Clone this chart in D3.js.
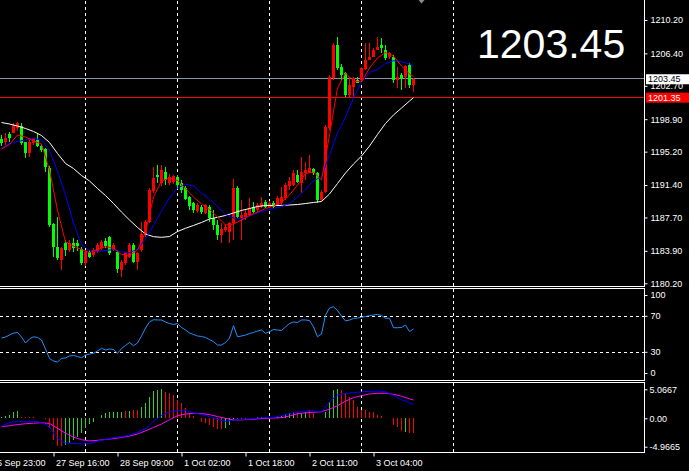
<!DOCTYPE html>
<html><head><meta charset="utf-8">
<script src="https://cdn.jsdelivr.net/npm/d3@7"></script>
<style>html,body{margin:0;padding:0;background:#000;overflow:hidden}</style>
</head><body><svg id="c" width="689" height="471"></svg>
<script>
// ---- data ----
const opens = [1196.61,1196.34,1197.18,1197.36,1197.86,1198.12,1196.27,1195.08,1196.15,1196.53,1195.85,1195.47,1193.34,1186.96,1184.37,1182.85,1184.79,1183.99,1184.76,1184.79,1184.07,1182.48,1183.80,1183.42,1183.80,1184.22,1185.02,1185.48,1183.99,1183.80,1181.72,1182.48,1183.23,1184.56,1182.66,1183.99,1185.70,1187.18,1190.72,1192.54,1191.63,1192.88,1191.63,1191.74,1192.31,1191.63,1191.06,1190.03,1189.35,1188.44,1188.89,1188.21,1188.89,1187.64,1186.84,1185.70,1186.27,1186.08,1187.04,1191.02,1187.49,1187.60,1187.98,1188.93,1188.55,1188.93,1189.50,1188.93,1189.32,1189.12,1189.32,1189.89,1191.29,1191.40,1192.54,1191.59,1192.73,1192.73,1193.19,1192.73,1189.69,1190.64,1197.86,1203.56,1207.35,1204.88,1204.13,1201.66,1202.60,1203.37,1203.37,1204.58,1205.64,1206.02,1206.78,1207.35,1206.78,1206.02,1206.02,1203.37,1203.93,1203.67,1205.07,1202.80];
const highs = [1197.10,1197.29,1197.47,1198.50,1198.58,1198.43,1196.34,1196.72,1196.76,1197.36,1196.07,1195.62,1193.57,1187.07,1187.79,1184.33,1185.13,1185.13,1185.32,1185.13,1184.33,1183.99,1183.99,1184.22,1184.79,1185.13,1185.36,1185.59,1184.79,1183.99,1182.85,1183.77,1184.76,1184.79,1183.80,1187.18,1187.41,1191.06,1193.45,1193.68,1193.68,1193.45,1192.65,1192.54,1192.54,1191.97,1191.29,1190.15,1189.46,1189.35,1189.12,1189.24,1189.12,1188.55,1187.41,1187.04,1186.96,1187.18,1192.05,1191.29,1189.69,1188.55,1189.89,1189.50,1189.35,1190.07,1189.69,1189.58,1189.58,1190.15,1191.20,1191.63,1192.35,1193.11,1193.11,1194.63,1194.06,1194.82,1193.34,1192.88,1190.83,1198.24,1203.93,1207.58,1208.30,1205.19,1204.28,1203.74,1203.71,1203.74,1204.85,1207.55,1207.55,1207.01,1208.30,1208.12,1207.35,1206.55,1206.21,1204.88,1204.16,1205.07,1205.26,1203.59];
const lows = [1195.85,1195.96,1196.34,1197.29,1197.55,1195.96,1194.44,1194.56,1195.96,1195.77,1195.16,1192.92,1186.61,1183.23,1182.85,1181.72,1183.31,1183.77,1183.80,1183.88,1182.29,1182.17,1183.08,1183.20,1183.65,1183.99,1184.22,1183.42,1183.88,1181.41,1180.95,1182.29,1183.08,1182.51,1181.72,1183.77,1185.48,1187.07,1190.49,1191.63,1191.29,1191.40,1191.40,1191.51,1191.06,1190.49,1189.69,1188.55,1188.21,1188.21,1188.10,1188.10,1187.18,1186.27,1185.13,1184.76,1186.05,1184.76,1185.13,1187.64,1185.13,1187.41,1187.87,1188.21,1188.32,1188.78,1188.78,1188.78,1188.78,1189.01,1189.12,1189.69,1190.83,1191.29,1191.63,1190.45,1191.97,1192.73,1192.54,1189.32,1189.58,1190.49,1197.67,1203.37,1204.50,1203.37,1201.43,1201.46,1201.46,1202.99,1203.25,1204.50,1205.64,1205.99,1206.78,1206.40,1205.64,1205.81,1202.99,1202.42,1202.23,1202.42,1202.42,1201.97];
const closes = [1196.22,1196.72,1196.76,1198.24,1198.43,1196.15,1195.08,1196.34,1196.61,1195.85,1195.39,1193.42,1186.84,1184.30,1183.05,1184.18,1183.99,1184.79,1184.22,1184.45,1182.48,1183.80,1183.23,1183.99,1184.56,1184.94,1184.45,1183.62,1184.56,1181.80,1182.66,1183.62,1184.56,1182.66,1183.62,1185.81,1187.18,1190.83,1192.20,1192.31,1193.11,1191.97,1192.31,1192.43,1191.40,1190.83,1189.81,1189.01,1188.55,1189.12,1188.32,1189.12,1187.64,1186.84,1185.70,1186.35,1186.65,1187.04,1191.02,1187.79,1187.98,1188.24,1188.75,1188.36,1189.12,1189.32,1188.93,1189.32,1188.93,1189.89,1190.07,1191.40,1191.86,1192.73,1191.78,1192.92,1193.11,1193.30,1192.73,1189.69,1190.64,1198.04,1203.74,1207.35,1204.70,1203.93,1201.66,1202.80,1203.56,1203.06,1204.70,1205.64,1206.02,1206.78,1207.16,1206.97,1205.84,1206.40,1203.37,1203.74,1203.44,1204.96,1202.80,1203.45];
// moving averages, read every second bar (bars 0,2,...,102) plus the last bar 103
const maSlow = [1198.52,1198.35,1198.12,1197.84,1197.50,1197.04,1196.24,1194.99,1193.85,1193.28,1192.48,1191.86,1191.00,1190.20,1189.29,1188.32,1187.41,1186.56,1185.82,1185.51,1185.44,1185.53,1186.10,1186.47,1186.79,1187.13,1187.53,1187.72,1187.93,1188.21,1188.50,1188.72,1188.95,1189.07,1189.07,1189.07,1189.12,1189.18,1189.29,1189.41,1189.52,1190.38,1191.57,1192.77,1193.79,1194.70,1195.84,1197.16,1198.41,1199.38,1200.17,1200.97,1201.35];
const maMid = [1195.62,1196.13,1196.36,1196.53,1196.72,1196.53,1195.33,1192.96,1190.26,1187.07,1184.62,1183.94,1183.80,1183.94,1184.05,1183.80,1183.69,1184.11,1185.25,1186.84,1188.44,1189.92,1191.06,1191.51,1191.29,1190.49,1189.81,1188.95,1188.04,1187.64,1187.58,1187.87,1188.21,1188.50,1188.72,1188.95,1189.29,1190.03,1190.95,1191.86,1192.37,1194.82,1197.33,1199.15,1201.31,1203.14,1204.22,1204.56,1205.25,1205.56,1205.45,1205.19,1205.02];
const maFast = [1195.50,1196.02,1197.10,1196.87,1196.41,1196.07,1193.11,1188.50,1184.91,1184.45,1184.05,1183.69,1184.05,1184.37,1184.19,1183.48,1183.37,1183.99,1186.05,1190.03,1191.86,1192.20,1191.91,1191.00,1190.03,1189.24,1188.61,1187.76,1186.84,1186.96,1187.41,1187.93,1188.32,1188.72,1189.01,1189.41,1190.26,1191.40,1192.71,1192.88,1191.97,1197.10,1202.45,1204.16,1203.25,1203.14,1204.73,1205.87,1206.50,1206.10,1204.96,1204.05,1203.76];
const rsi = [45.9,47.0,49.2,51.4,52.0,47.0,40.3,44.8,47.3,46.4,43.7,33.7,23.1,20.3,19.2,23.3,23.7,25.9,26.4,25.3,24.0,27.0,28.1,28.9,31.4,34.4,32.6,33.7,33.1,28.9,34.2,37.6,40.9,37.3,40.3,48.1,57.0,63.7,66.2,65.9,65.9,63.7,62.0,60.9,62.0,57.6,54.8,51.4,49.8,48.1,47.6,46.4,44.2,41.8,38.1,38.1,40.9,45.9,59.6,47.3,48.1,49.2,50.9,52.0,53.7,54.8,51.1,52.9,55.3,54.8,54.2,58.1,62.0,63.7,63.1,65.9,65.9,65.3,58.4,47.3,50.3,71.4,79.2,80.7,76.4,70.3,64.8,65.9,67.6,68.1,68.9,69.8,70.7,71.4,72.2,70.7,67.8,67.8,57.3,57.3,57.6,60.3,53.1,55.9];
const macdHist = [0.2,0.35,0.6,1.05,1.3,0.3,0.3,0.3,0.3,0.12,0.05,-0.1,-1.75,-3.8,-4.8,-4.8,-4.66,-4.37,-3.8,-3.2,-2.62,-1.75,-1.05,-0.58,0.12,0.58,0.87,1.05,1.17,1.05,1.17,1.28,1.28,1.4,1.4,2.04,2.62,3.79,4.78,4.9,5.07,4.66,4.37,4.08,3.2,2.62,1.75,0.87,0.47,0.03,-0.58,-0.87,-1.17,-1.46,-1.86,-1.86,-1.75,-1.17,-0.3,-0.2,-0.1,-0.05,0.05,0.1,0.15,0.29,0.2,0.1,0.05,0.2,0.4,0.7,0.87,1.17,1.05,0.87,1.17,1.46,0.87,0.05,0.05,1.17,2.9,5.0,5.07,4.95,4.4,3.79,3.2,2.04,1.46,1.46,1.17,1.05,0.58,0.4,0.12,0.05,-1.17,-1.46,-2.2,-2.33,-2.62,-2.62];
const histUp = [1,1,1,1,1,0,0,0,0,0,0,0,0,0,0,0,1,1,1,1,1,1,1,1,1,1,1,1,1,1,1,0,1,0,0,1,1,1,1,1,1,0,0,0,0,0,0,0,0,0,0,0,0,0,0,0,1,1,1,0,0,0,1,1,1,1,0,0,0,1,1,1,1,1,0,1,1,0,0,0,0,1,1,1,1,0,0,0,0,0,0,0,0,0,0,0,0,0,0,0,0,1,0,0];
const macdLine = [-1.4,-0.72,-0.6,-0.58,-0.58,-0.68,-1.5,-3.55,-4.3,-4.42,-4.48,-4.45,-4.0,-3.7,-3.38,-3.22,-2.95,-2.45,-1.8,-0.55,0.5,1.1,1.35,1.35,1.0,0.65,0.3,-0.2,-0.55,-0.3,-0.2,-0.12,0.05,0.12,0.17,0.45,0.8,1.1,1.25,1.3,1.1,2.9,4.08,4.32,4.5,4.62,4.7,4.75,4.6,4.0,3.25,2.7,2.45];
const signalLine = [-1.45,-1.3,-1.1,-0.95,-0.86,-0.78,-0.9,-1.75,-2.6,-3.3,-3.75,-3.95,-3.85,-3.7,-3.55,-3.35,-3.1,-2.75,-2.2,-1.6,-1.0,-0.25,0.45,0.75,0.87,0.82,0.65,0.3,0.0,-0.29,-0.26,-0.2,-0.1,0.0,0.05,0.1,0.4,0.8,0.95,1.05,1.15,1.6,2.2,3.0,3.6,3.95,4.25,4.37,4.37,4.2,3.85,3.4,3.2];
const priceTicks = ["1210.20","1206.40","1202.70","1198.90","1195.20","1191.40","1187.70","1183.90","1180.20"];
const rsiTicks = [100,70,30,0];
const rsiLevels = [70,30];
const macdTicks = ["5.0667","0.00","-4.9665"];
const timeLabels = ["26 Sep 23:00","27 Sep 16:00","28 Sep 09:00","1 Oct 02:00","1 Oct 18:00","2 Oct 11:00","3 Oct 04:00"];
const timeBars = [-3,13,29,45,61,77,93];
const gridBars = [21,44,67,90,113];
const lastPrice = "1203.45";
const levelPrice = "1201.35";

// ---- layout ----
const svg = d3.select("#c");
const W = 689, H = 471, RIGHT = 644;
const mainP = {top:0, bottom:286};
const rsiP = {top:288, bottom:380};
const macdP = {top:382, bottom:452};
svg.append("rect").attr("width",W).attr("height",H).attr("fill","#000");

const nBars = opens.length;
const x = d3.scaleLinear().domain([0,1]).range([1.5,5.5]);
const y = d3.scaleLinear().domain([1180.2,1210.2]).range([283.3,20]);
const yR = d3.scaleLinear().domain([0,100]).range([379.3,289.3]);
const yM = d3.scaleLinear().domain([-4.9665,5.0667]).range([446.7,389.3]);
const maBars = d3.range(0,nBars,2).concat([nBars-1]);
const FONT = "'Liberation Sans', Arial, sans-serif";

function clip(id, p){
  svg.append("clipPath").attr("id",id).append("rect")
    .attr("x",0).attr("y",p.top).attr("width",RIGHT).attr("height",p.bottom-p.top);
}
clip("cm",mainP); clip("cr",rsiP); clip("cd",macdP);

// vertical dashed grid in every panel
[mainP,rsiP,macdP].forEach(p=>{
  svg.append("g").selectAll("line").data(gridBars).join("line")
    .attr("x1",d=>x(d)).attr("x2",d=>x(d))
    .attr("y1",p.top+1).attr("y2",p.bottom)
    .attr("stroke","#fff").attr("stroke-dasharray","3,3").attr("stroke-width",1)
    .attr("shape-rendering","crispEdges");
});

// ---- main panel ----
const gm = svg.append("g").attr("clip-path","url(#cm)");
gm.append("line").attr("x1",0).attr("x2",RIGHT)
  .attr("y1",Math.floor(y(+lastPrice))-0.5).attr("y2",Math.floor(y(+lastPrice))-0.5)
  .attr("stroke","#8595a8").attr("stroke-width",1);
gm.append("line").attr("x1",0).attr("x2",RIGHT)
  .attr("y1",Math.floor(y(+levelPrice))+0.5).attr("y2",Math.floor(y(+levelPrice))+0.5)
  .attr("stroke","#ff0000").attr("stroke-width",1);

const candles = gm.append("g").attr("shape-rendering","crispEdges");
const idx = d3.range(nBars);
const col = i => closes[i] >= opens[i] ? "#ff0000" : "#00ff00";
candles.selectAll("line.w").data(idx).join("line").attr("class","w")
  .attr("x1",i=>x(i)).attr("x2",i=>x(i))
  .attr("y1",i=>y(highs[i])).attr("y2",i=>y(lows[i]))
  .attr("stroke",col).attr("stroke-width",1);
candles.selectAll("rect").data(idx).join("rect")
  .attr("x",i=>x(i)-1.5).attr("width",3)
  .attr("y",i=>Math.min(y(opens[i]),y(closes[i])))
  .attr("height",i=>Math.max(1,Math.abs(y(opens[i])-y(closes[i]))))
  .attr("fill",col);

function maLine(g, vals, scale, color){
  g.append("path").datum(vals)
    .attr("d", d3.line().x((d,k)=>x(maBars[k])).y(d=>scale(d)))
    .attr("fill","none").attr("stroke",color).attr("stroke-width",1);
}
maLine(gm, maSlow, y, "#ffffff");
maLine(gm, maMid, y, "#0000ff");
maLine(gm, maFast, y, "#ff0000");

// big price text
svg.append("text").attr("x",477).attr("y",58).text(lastPrice)
  .attr("font-family",FONT).attr("font-size",41).attr("fill","#fff");
// small grey marker at top
svg.append("path").attr("d","M418.5,0 L424.5,0 L421.5,3.5 Z").attr("fill","#8a8a8a");

// ---- RSI panel ----
const gr = svg.append("g").attr("clip-path","url(#cr)");
gr.selectAll("line").data(rsiLevels).join("line")
  .attr("x1",0).attr("x2",RIGHT).attr("y1",d=>Math.round(yR(d))+0.5).attr("y2",d=>Math.round(yR(d))+0.5)
  .attr("stroke","#fff").attr("stroke-dasharray","3,3");
gr.append("path").datum(rsi)
  .attr("d", d3.line().x((d,i)=>x(i)).y(d=>yR(d)))
  .attr("fill","none").attr("stroke","#1e90ff").attr("stroke-width",1);

// ---- MACD panel ----
const gd = svg.append("g").attr("clip-path","url(#cd)");
gd.append("g").attr("shape-rendering","crispEdges").selectAll("line").data(idx).join("line")
  .attr("x1",i=>x(i)).attr("x2",i=>x(i))
  .attr("y1",yM(0)).attr("y2",i=>yM(macdHist[i]))
  .attr("stroke",i=>histUp[i] ? "#32cd32" : "#ff0000").attr("stroke-width",1);
maLine(gd, signalLine, yM, "#ff00ff");
maLine(gd, macdLine, yM, "#0000ff");

// ---- borders ----
const bord = svg.append("g").attr("stroke","#fff").attr("stroke-width",1).attr("shape-rendering","crispEdges");
[[mainP.bottom],[rsiP.top,rsiP.bottom],[macdP.top,macdP.bottom]].flat().forEach(v=>{
  bord.append("line").attr("x1",0).attr("x2",RIGHT+1).attr("y1",v+0.5).attr("y2",v+0.5);
});
[[0,mainP.bottom],[rsiP.top,rsiP.bottom],[macdP.top,macdP.bottom]].forEach(([a,b])=>{
  bord.append("line").attr("x1",RIGHT+0.5).attr("x2",RIGHT+0.5).attr("y1",a).attr("y2",b+1);
});

// ---- axes (right) ----
const axMain = d3.axisRight(y).tickValues(priceTicks.map(Number)).tickFormat(d=>d.toFixed(2)).tickSize(3).tickPadding(3);
const gAx = svg.append("g").attr("transform",`translate(${RIGHT+0.5},0)`).call(axMain);
const axR = d3.axisRight(yR).tickValues(rsiTicks).tickSize(3).tickPadding(3);
const gAr = svg.append("g").attr("transform",`translate(${RIGHT+0.5},0)`).call(axR);
gAr.selectAll(".tick").attr("transform",d=>`translate(0,${Math.max(295.5,Math.min(373.5,yR(d)))})`);
const axM = d3.axisRight(yM).tickValues(macdTicks.map(Number)).tickFormat((d,i)=>macdTicks[i]).tickSize(3).tickPadding(2);
const gAm = svg.append("g").attr("transform",`translate(${RIGHT+0.5},0)`).call(axM);
[gAx,gAr,gAm].forEach(g=>{
  g.select(".domain").remove();
  g.selectAll("line").attr("stroke","#fff");
  g.selectAll("text").attr("fill","#fff").attr("font-family",FONT).attr("font-size",9);
});

// price boxes
function priceBox(val, bg, fg){
  const yy = y(+val);
  svg.append("rect").attr("x",RIGHT+2).attr("y",yy-5).attr("width",W-RIGHT-2).attr("height",10).attr("fill",bg);
  svg.append("text").attr("x",RIGHT+4).attr("y",yy).attr("dy","0.33em").text(val)
    .attr("font-family",FONT).attr("font-size",9).attr("fill",fg);
}
priceBox(lastPrice,"#ffffff","#000000");
priceBox(levelPrice,"#ff0000","#ffffff");

// ---- time axis ----
const axT = d3.axisBottom(x).tickValues(timeBars).tickFormat((d,i)=>timeLabels[i]).tickSize(4).tickPadding(1);
const gT = svg.append("g").attr("transform",`translate(0,${macdP.bottom+0.5})`).call(axT);
gT.select(".domain").remove();
gT.selectAll("line").attr("stroke","#fff");
gT.selectAll("text").attr("fill","#fff").attr("font-family",FONT).attr("font-size",9)
  .attr("text-anchor","start").attr("dx",2).attr("dy","0.9em");
</script></body></html>
